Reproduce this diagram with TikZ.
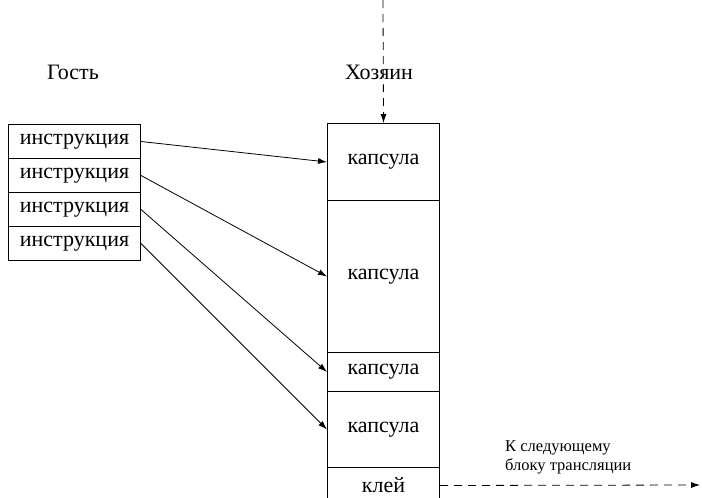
\documentclass[tikz,border=0pt]{standalone}
\usepackage{fontspec}
\setmainfont{Liberation Serif}
\usetikzlibrary{arrows.meta}
\begin{document}
\begin{tikzpicture}[x=1pt,y=-1pt,
 box/.style={draw, line width=1pt, inner sep=0pt, anchor=north west, font=\fontsize{22}{26}\selectfont},
 gbox/.style={box, minimum width=132pt, minimum height=34pt},
 hbox/.style={box, minimum width=112pt},
 lbl/.style={font=\fontsize{22}{26}\selectfont, inner sep=0pt},
 arr/.style={-{Latex[length=9pt,width=6pt]}, line width=0.8pt},
 darr/.style={arr, dash pattern=on 8pt off 6pt}]
\useasboundingbox (0,0) rectangle (702,498);
\node[gbox] (g1) at (8,124) {инструкция};
\node[gbox] (g2) at (8,158) {инструкция};
\node[gbox] (g3) at (8,192) {инструкция};
\node[gbox] (g4) at (8,226) {инструкция};
\node[hbox, minimum height=77pt] (h1) at (327,123) {капсула};
\node[hbox, minimum height=152pt] (h2) at (327,200) {капсула};
\node[hbox, minimum height=39pt] (h3) at (327,352) {капсула};
\node[hbox, minimum height=76pt] (h4) at (327,391) {капсула};
\node[hbox, minimum height=36pt] (h5) at (327,467) {клей};
\node[lbl] (guest) at (73,72) {Гость};
\node[lbl] (host) at (379,72) {Хозяин};
\node[font=\fontsize{16.5}{19}\selectfont, align=left, anchor=west, inner sep=0pt] (next) at (505,457) {К следующему\\блоку трансляции};
\coordinate (top) at (383,0);
\coordinate (out) at (700,485);
\draw[arr] (g1.east) -- (h1.west);
\draw[arr] (g2.east) -- (h2.west);
\draw[arr] (g3.east) -- (h3.west);
\draw[arr] (g4.east) -- (h4.west);
\draw[darr] (top) -- (h1.north);
\draw[darr] (h5.east) -- (out);
\end{tikzpicture}
\end{document}
